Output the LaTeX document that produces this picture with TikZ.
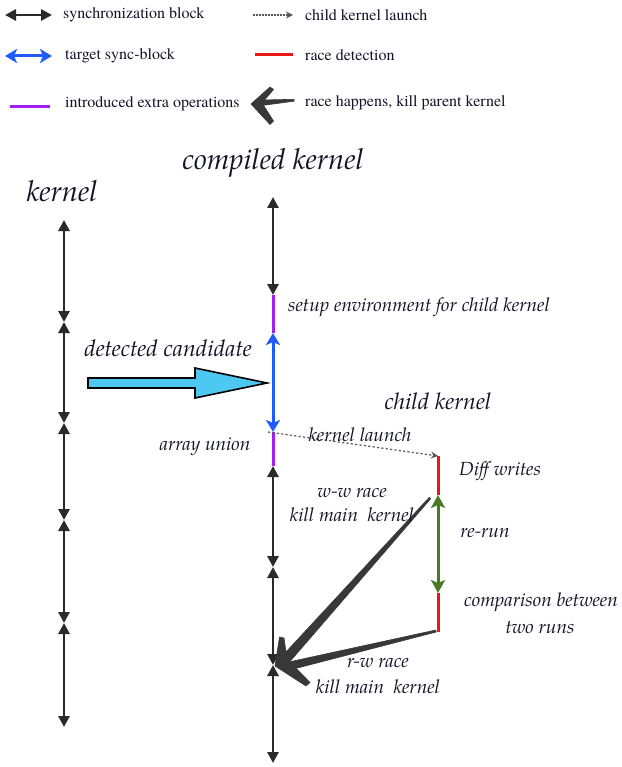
\documentclass[tikz,border=0pt]{standalone}
\usepackage{fontspec}
\setmainfont{texgyretermes-regular.otf}[ItalicFont=texgyretermes-italic.otf, BoldFont=texgyretermes-bold.otf]
\newfontfamily\palit{texgyrepagella-italic.otf}
\usetikzlibrary{arrows.meta}
\definecolor{tl}{HTML}{2A2A2A}
\definecolor{tblue}{HTML}{1F5BFF}
\definecolor{tpurple}{HTML}{A21DF0}
\definecolor{tred}{HTML}{E81818}
\definecolor{tgreen}{HTML}{4A7A26}
\definecolor{tcyan}{HTML}{4CC8F2}
\definecolor{sketch}{HTML}{383838}
\definecolor{txt}{HTML}{141428}
\tikzset{
  btip/.tip={Triangle[width=11pt,length=11pt]},
  syncblk/.style={line width=2.8pt, draw=tl, btip-btip},
  tgtblk/.style={line width=3pt, draw=tblue, {Stealth[width=14pt,length=12pt,inset=3pt]}-{Stealth[width=14pt,length=12pt,inset=3pt]}},
  rerun/.style={line width=3pt, draw=tgreen, {Stealth[width=14pt,length=13pt,inset=3pt]}-{Stealth[width=14pt,length=13pt,inset=3pt]}},
  extra/.style={line width=3pt, draw=tpurple},
  racedet/.style={line width=3pt, draw=tred},
  launch/.style={line width=1.2pt, draw=black!65, dash pattern=on 2.2pt off 2.2pt, -{Stealth[width=7pt,length=7pt]}},
  legtxt/.style={font=\fontsize{16}{18}\selectfont, text=txt, anchor=west, inner sep=0pt},
  lbl/.style={font=\palit\fontsize{19}{22}\selectfont, text=txt, inner sep=0pt},
  big/.style={font=\palit\fontsize{23}{26}\selectfont, text=txt, inner sep=0pt},
  title/.style={font=\palit\fontsize{29}{32}\selectfont, text=txt, inner sep=0pt},
  sketchfill/.style={fill=sketch, draw=sketch, line width=0.6pt, line join=round}
}
\begin{document}
\begin{tikzpicture}[x=1pt,y=-1pt]
\useasboundingbox (0,0) rectangle (621,767);

% ---------- legend ----------
\coordinate (l1a) at (5,15);   \coordinate (l1b) at (52,15);
\coordinate (l2a) at (5,56);   \coordinate (l2b) at (52,56);
\coordinate (l3a) at (10,107); \coordinate (l3b) at (50,107);
\coordinate (l4a) at (253,15); \coordinate (l4b) at (293,15);
\coordinate (l5a) at (255,55); \coordinate (l5b) at (293,55);
\draw[syncblk] (l1a) -- (l1b);
\draw[tgtblk] (l2a) -- (l2b);
\draw[extra] (l3a) -- (l3b);
\draw[launch, dash pattern=on 1.5pt off 1.5pt] (l4a) -- (l4b);
\draw[racedet] (l5a) -- (l5b);
\fill[sketchfill] (294,99.3) -- (294,101.2) -- (262,105.5) -- (262,100) -- cycle;
\fill[sketchfill] (251,104) -- (270,87) -- (273.5,89.5) -- (262,103) -- (273.5,121) -- (270,124.5) -- cycle;

\node[legtxt] (t1) at (63,15) {synchronization block};
\node[legtxt] (t2) at (65,56) {target sync-block};
\node[legtxt] (t3) at (65,104) {introduced extra operations};
\node[legtxt] (t4) at (305,15) {child kernel launch};
\node[legtxt] (t5) at (305,55) {race detection};
\node[legtxt] (t6) at (305,103) {race happens, kill parent kernel};

% ---------- titles ----------
\node[title] (ck) at (273,163) {compiled kernel};
\node[title] (kn) at (62,191) {kernel};
\node[big] (child) at (438,401) {child kernel};

% ---------- original kernel timeline ----------
\coordinate (k0) at (64,220);
\coordinate (k1) at (64,322);
\coordinate (k2) at (64,423);
\coordinate (k3) at (64,520);
\coordinate (k4) at (64,623);
\coordinate (k5) at (64,727);
\draw[syncblk] (k0) -- (k1);
\draw[syncblk] (k1) -- (k2);
\draw[syncblk] (k2) -- (k3);
\draw[syncblk] (k3) -- (k4);
\draw[syncblk] (k4) -- (k5);

% ---------- compiled kernel timeline ----------
\coordinate (c0) at (273,197);
\coordinate (c1) at (273,295);
\coordinate (c2) at (273,333);
\coordinate (c3) at (273,432);
\coordinate (c4) at (273,466);
\coordinate (c5) at (273,567);
\coordinate (c6) at (273,665);
\coordinate (c7) at (273,763);
\draw[syncblk] (c0) -- (c1);
\draw[extra] (c1) -- (c2);
\draw[extra] (c3) -- (c4);
\draw[tgtblk] (c2) -- (c3);
\draw[syncblk] (c4) -- (c5);
\draw[syncblk] (c5) -- (c6);
\draw[syncblk] (c6) -- (c7);

% ---------- child kernel ----------
\coordinate (d0) at (438,456);
\coordinate (d1) at (438,495);
\coordinate (d2) at (438,593);
\coordinate (d3) at (438,632);
\coordinate (ls) at (268,432);
\draw[racedet] (d0) -- (d1);
\draw[racedet] (d2) -- (d3);
\draw[rerun] (d1) -- (d2);
\draw[launch] (ls) -- (d0);

% ---------- detected candidate arrow ----------
\filldraw[fill=tcyan, draw=black, line width=1.6pt, line join=miter]
  (88,378) -- (195,378) -- (195,368) -- (267,383) -- (195,398) -- (195,388) -- (88,388) -- cycle;

% ---------- race arrows ----------
\fill[sketchfill] (430.7,498.7) -- (429.3,497.3) -- (281.5,656.8) -- (288.5,663.2) -- cycle;
\fill[sketchfill] (436.2,632) -- (435.8,630) -- (284.1,663) -- (285.9,671) -- cycle;
\fill[sketchfill] (275,666) -- (279.5,637) -- (284,638) -- (287,659) -- (310,682.5) -- (306,686) -- cycle;

% ---------- labels ----------
\node[lbl, anchor=west] (setup) at (288,307) {setup environment for child kernel};
\node[big] (det) at (168,348) {detected candidate};
\node[lbl] (au) at (205,447) {array union};
\node[lbl] (kl) at (360,435) {kernel launch};
\node[lbl] (dw) at (500,471) {Diff writes};
\node[lbl] (ww1) at (352,493) {w-w race};
\node[lbl] (ww2) at (352,515) {kill main\ \ kernel};
\node[lbl] (rr) at (485,533) {re-run};
\node[lbl] (cmp1) at (541,602) {comparison between};
\node[lbl] (cmp2) at (540,627) {two runs};
\node[lbl] (rw1) at (378,663) {r-w race};
\node[lbl] (rw2) at (378,687) {kill main\ \ kernel};
\end{tikzpicture}
\end{document}
